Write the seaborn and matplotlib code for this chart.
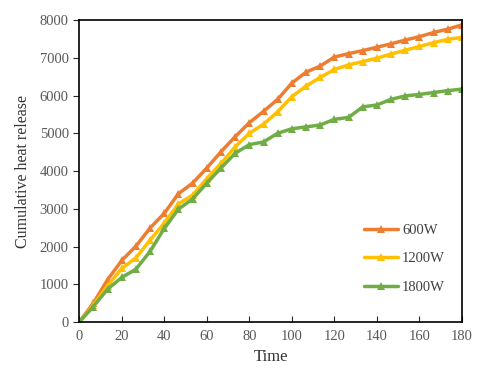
import pandas as pd
import matplotlib.pyplot as plt
import seaborn as sns

# data
time = [0, 6.67, 13.33, 20, 26.67, 33.33, 40, 46.67, 53.33, 60, 66.67, 73.33, 80, 86.67,
        93.33, 100, 106.67, 113.33, 120, 126.67, 133.33, 140, 146.67, 153.33, 160, 166.67,
        173.33, 180]
heat_600 = [0, 500, 1120, 1630, 2010, 2490, 2880, 3400, 3680, 4080, 4510, 4910, 5280, 5580,
            5900, 6330, 6620, 6780, 7020, 7110, 7190, 7280, 7370, 7470, 7560, 7670, 7760, 7870]
heat_1200 = [0, 450, 960, 1420, 1700, 2170, 2620, 3130, 3360, 3800, 4200, 4640, 5000, 5240,
             5570, 5970, 6250, 6480, 6690, 6810, 6900, 6990, 7100, 7200, 7300, 7400, 7490, 7540]
heat_1800 = [0, 410, 870, 1180, 1400, 1870, 2480, 2990, 3260, 3680, 4080, 4470, 4700, 4770,
             5000, 5120, 5170, 5220, 5370, 5420, 5700, 5750, 5900, 5990, 6030, 6080, 6130, 6170]
labels = ["600W", "1200W", "1800W"]
colors = ["#ED7D31", "#FFC000", "#70AD47"]

df = pd.DataFrame({
    "Time": time * 3,
    "Heat": heat_600 + heat_1200 + heat_1800,
    "Power": [labels[0]] * len(time) + [labels[1]] * len(time) + [labels[2]] * len(time),
})

sns.set_style("white")
plt.rcParams["font.family"] = ["Liberation Serif", "DejaVu Serif"]

fig = plt.figure(figsize=(4.8, 3.71), dpi=100)
ax = fig.add_axes([0.165, 0.132, 0.7975, 0.814])

sns.lineplot(
    data=df, x="Time", y="Heat", hue="Power",
    palette=colors, marker="^", markersize=6, markeredgewidth=0,
    linewidth=2.5, ax=ax
)

ax.set_xlim(0, 180)
ax.set_ylim(0, 8000)
ax.set_xticks(range(0, 181, 20))
ax.set_yticks(range(0, 8001, 1000))
ax.set_xlabel("Time", fontsize=12, color="#333333")
ax.set_ylabel("Cumulative heat release", fontsize=11.5, color="#333333", labelpad=6)

for s in ax.spines.values():
    s.set_color("black")
    s.set_linewidth(1.2)

ax.tick_params(axis="x", direction="in", length=4, labelsize=10.5, labelcolor="#595959",
               bottom=True, pad=6)
ax.tick_params(axis="y", direction="out", length=4, labelsize=10.5, labelcolor="#595959",
               left=True)

ax.legend(loc="center left", bbox_to_anchor=(0.71, 0.21), frameon=False, fontsize=10.5,
          handlelength=2.3, labelspacing=1.05, handletextpad=0.3, labelcolor="#404040")

fig.savefig("out.png", dpi=100)
